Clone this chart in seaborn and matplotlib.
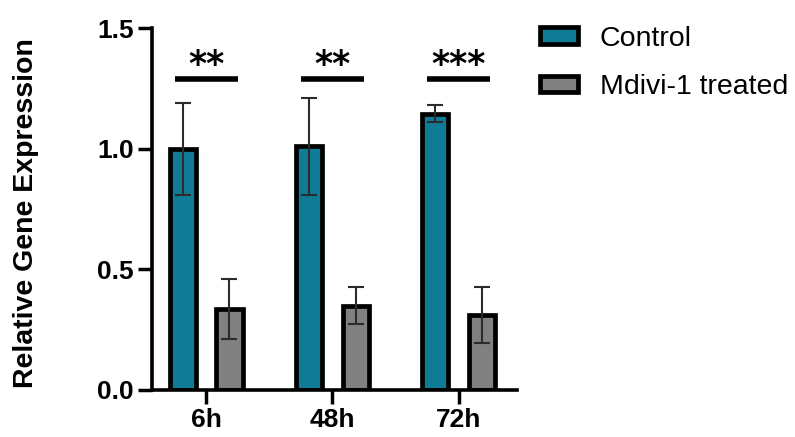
import numpy as np
import pandas as pd
import matplotlib
matplotlib.use('Agg')
import matplotlib.pyplot as plt
import seaborn as sns

# data
timepoints = ['6h', '48h', '72h']
groups = ['Control', 'Mdivi-1 treated']
control_mean = [1.00, 1.01, 1.145]
control_err = [0.19, 0.20, 0.035]
treated_mean = [0.335, 0.35, 0.31]
treated_err = [0.125, 0.075, 0.115]
stars = ['**', '**', '***']
sig_level = 1.29

df = pd.DataFrame({
    'Time': timepoints * 2,
    'Group': [groups[0]] * 3 + [groups[1]] * 3,
    'Expression': control_mean + treated_mean,
})
errors = [control_err, treated_err]
means = [control_mean, treated_mean]

sns.set_style('ticks')
plt.rcParams['font.family'] = ['Liberation Sans', 'DejaVu Sans']
plt.rcParams.update({'text.color': 'black', 'axes.labelcolor': 'black',
                     'xtick.color': 'black', 'ytick.color': 'black'})

fig = plt.figure(figsize=(7.95, 4.37), dpi=100, facecolor='white')
ax = fig.add_axes([0.191, 0.1076, 0.459, 0.828])

palette = ['#0f7b97', '#808080']
sns.barplot(
    data=df, x='Time', y='Expression', hue='Group', palette=palette,
    width=0.74, gap=0.44, edgecolor='black', linewidth=3.4,
    errorbar=None, saturation=1, ax=ax
)

# error bars at the bar centres
for cont, m, e in zip(ax.containers, means, errors):
    xs = [b.get_x() + b.get_width() / 2 for b in cont]
    ax.errorbar(xs, m, yerr=e, fmt='none', ecolor='#2b2b2b',
                elinewidth=1.5, capsize=5.5, capthick=1.5, zorder=5)

# significance marks
for i, s in enumerate(stars):
    ax.plot([i - 0.25, i + 0.25], [sig_level, sig_level], color='black',
            lw=4, solid_capstyle='butt')
    ax.text(i, sig_level + 0.015, s, ha='center', va='baseline',
            fontsize=25, fontweight='bold', family='DejaVu Sans', color='black')

ax.set_xlim(-0.43, 2.46)
ax.set_ylim(0, 1.5)
ax.set_yticks([0, 0.5, 1.0, 1.5])
ax.set_yticklabels(['0.0', '0.5', '1.0', '1.5'])
ax.set_xlabel('')
ax.set_ylabel('Relative Gene Expression', fontsize=20.5, fontweight='bold',
              color='black')
ax.yaxis.set_label_coords(-0.31, 0.49)
for lab in ax.get_xticklabels() + ax.get_yticklabels():
    lab.set_fontweight('bold')
    lab.set_fontsize(19)
    lab.set_color('black')
ax.tick_params(axis='both', length=10, width=2.5, pad=3, color='black')
sns.despine(ax=ax)
for sp in ['left', 'bottom']:
    ax.spines[sp].set_linewidth(2.6)
    ax.spines[sp].set_color('black')

leg = ax.legend(
    loc='upper left', bbox_to_anchor=(0.647, 1.0), bbox_transform=fig.transFigure,
    frameon=False, fontsize=20.5, handlelength=1.35, handleheight=0.5,
    handletextpad=0.75, labelspacing=0.8
)
for t in leg.get_texts():
    t.set_color('black')

fig.savefig('out.png', dpi=100, facecolor='white')
